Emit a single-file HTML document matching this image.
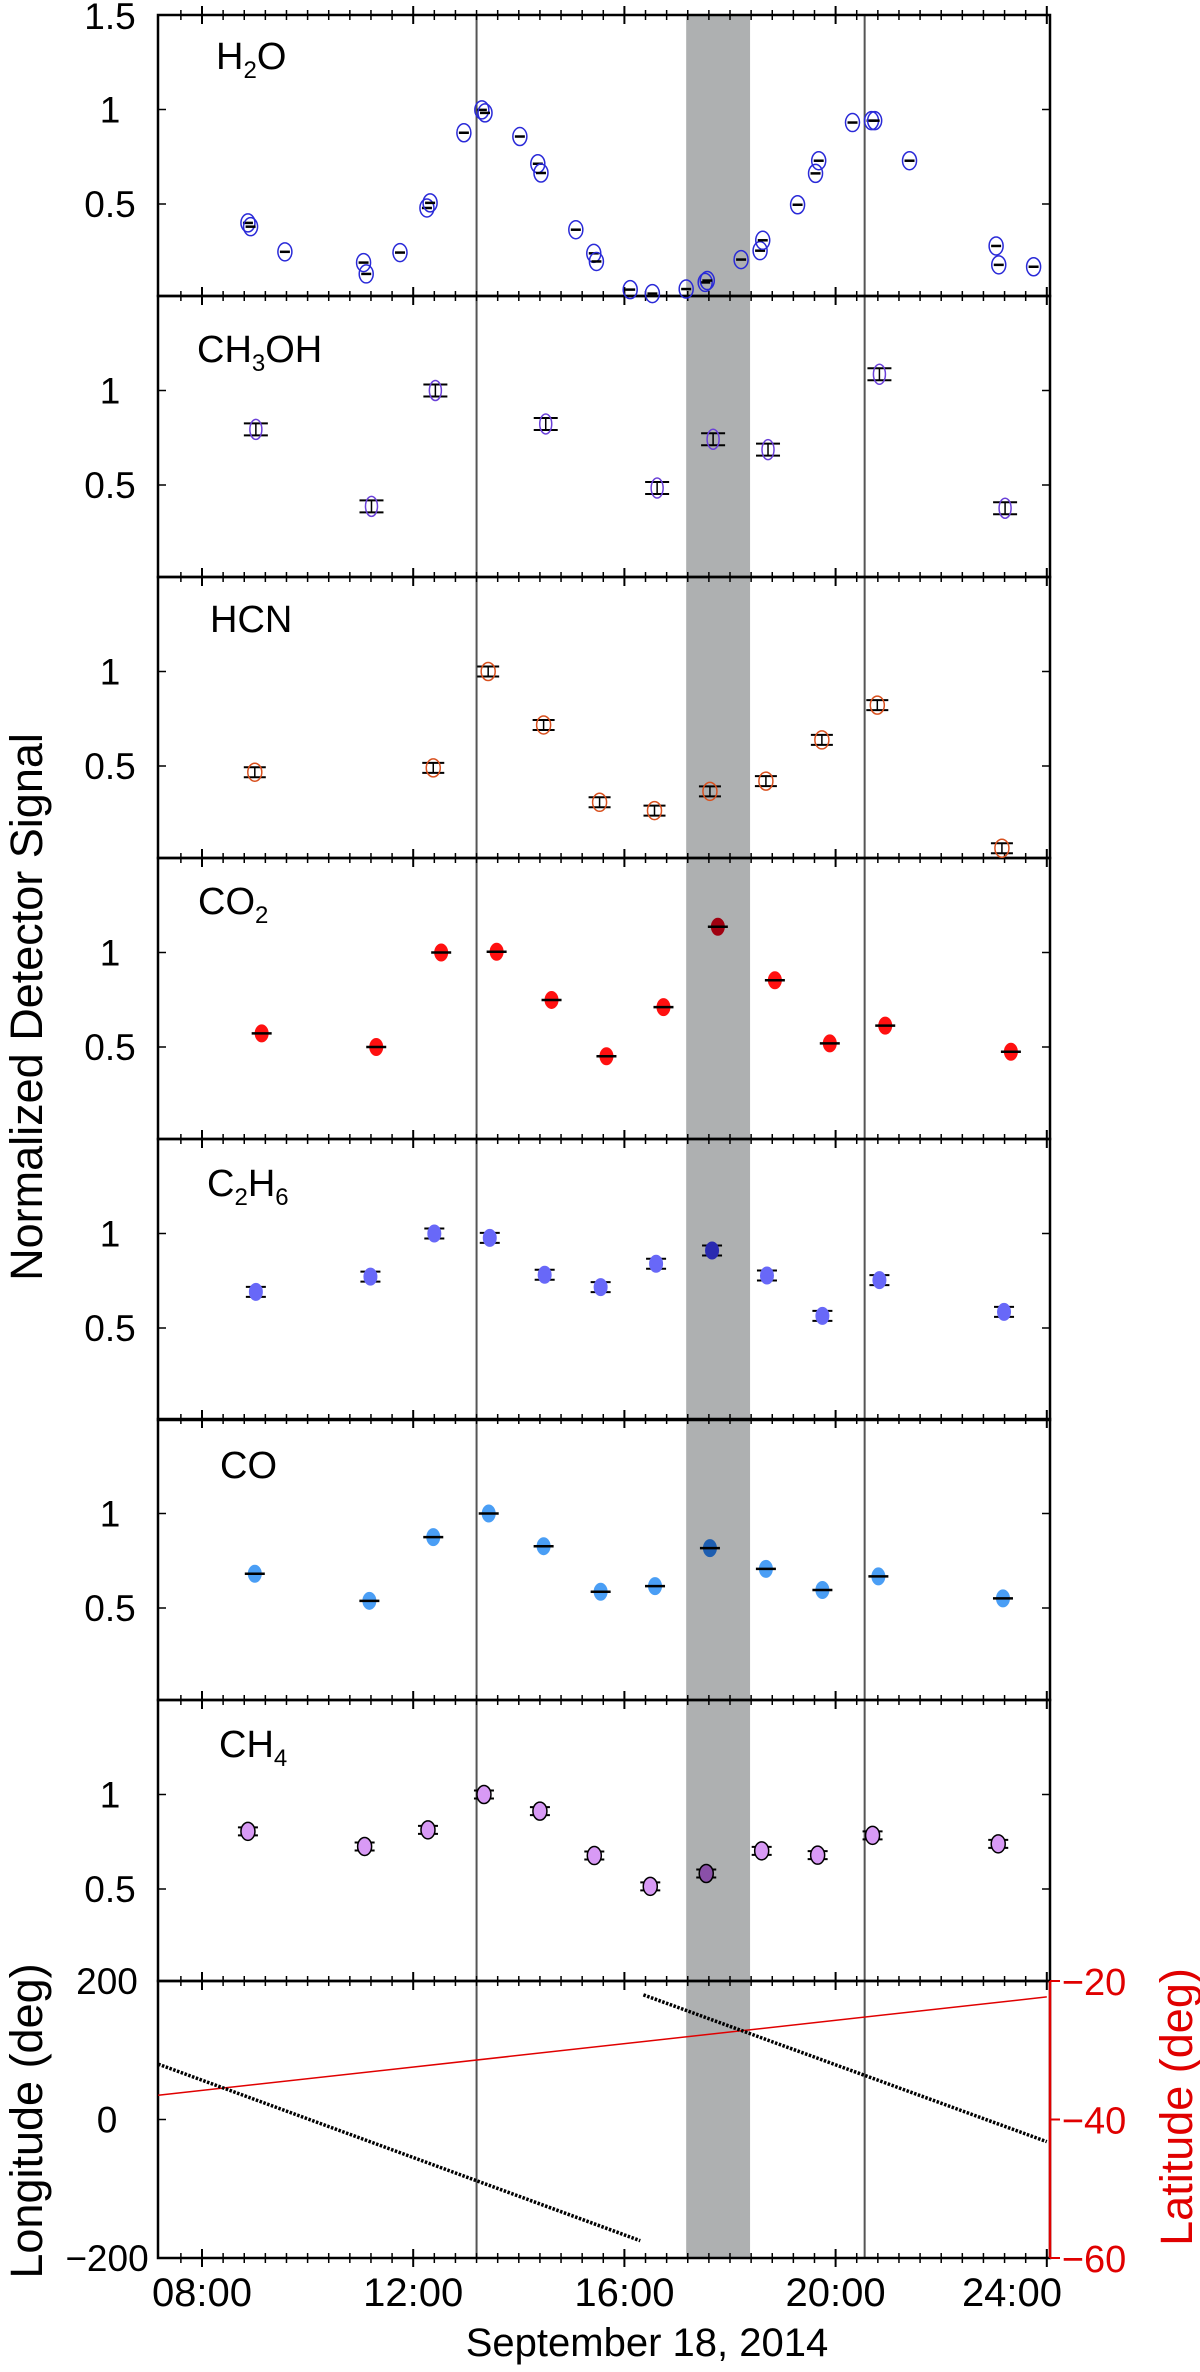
<!DOCTYPE html>
<html><head><meta charset="utf-8"><style>
html,body{margin:0;padding:0;background:#fff;}
svg{display:block;}
text{font-family:"Liberation Sans",sans-serif;}
</style></head><body>
<svg id="chart" width="1200" height="2372" viewBox="0 0 1200 2372" xmlns="http://www.w3.org/2000/svg"></svg>
<script>
// ---- data ----
const panelNames = ["H2O","CH3OH","HCN","CO2","C2H6","CO","CH4"];
const h2oTimes = [8.87,8.92,9.57,11.06,11.11,11.75,12.26,12.32,12.96,13.30,13.36,14.02,14.36,14.42,15.08,15.42,15.47,16.11,16.53,17.17,17.53,17.57,18.21,18.57,18.62,19.28,19.62,19.68,20.32,20.68,20.74,21.40,23.04,23.09,23.75];
const h2oValues = [0.40,0.38,0.247,0.19,0.13,0.243,0.479,0.506,0.877,0.998,0.982,0.857,0.713,0.664,0.364,0.239,0.196,0.047,0.026,0.05,0.085,0.095,0.206,0.253,0.308,0.496,0.662,0.729,0.931,0.941,0.941,0.729,0.278,0.178,0.168];
const ch3ohTimes = [9.02,11.21,12.42,14.51,16.62,17.68,18.72,20.83,23.21];
const ch3ohValues = [0.794,0.387,1.0,0.823,0.484,0.742,0.687,1.086,0.377];
const hcnTimes = [9.00,12.38,13.42,14.47,15.53,16.57,17.62,18.68,19.74,20.79,23.15];
const hcnValues = [0.467,0.49,1.0,0.717,0.308,0.264,0.366,0.42,0.638,0.822,0.065];
const co2Times = [9.13,11.30,12.53,13.58,14.62,15.66,16.74,17.77,18.85,19.89,20.94,23.32];
const co2Values = [0.572,0.5,1.0,1.004,0.749,0.451,0.711,1.136,0.853,0.519,0.613,0.475];
const c2h6Times = [9.02,11.19,12.40,13.45,14.49,15.55,16.60,17.66,18.70,19.75,20.83,23.19];
const c2h6Values = [0.691,0.772,1.0,0.977,0.782,0.716,0.84,0.91,0.778,0.564,0.753,0.585];
const coTimes = [9.0,11.17,12.38,13.43,14.47,15.55,16.58,17.62,18.68,19.75,20.81,23.17];
const coValues = [0.681,0.538,0.875,1.0,0.827,0.586,0.616,0.817,0.707,0.595,0.667,0.551];
const ch4Times = [8.87,11.08,12.28,13.34,14.40,15.43,16.49,17.55,18.60,19.66,20.70,23.08];
const ch4Values = [0.805,0.725,0.813,1.0,0.912,0.677,0.514,0.582,0.702,0.679,0.784,0.739];
const lonSeg1Times = [7.17,16.30];
const lonSeg1Values = [80,-175];
const lonSeg2Times = [16.36,24.0];
const lonSeg2Values = [180,-32];
const latTimes = [7.17,24.0];
const latValues = [-36.5,-22.3];
const markerTimes = [13.2,20.55];
const bandTimes = [17.17,18.38];
const xTickHours = [8,12,16,20,24];
const xTickLabels = ["08:00","12:00","16:00","20:00","24:00"];
const yTickValues = [0.5,1];
const lonTickValues = [200,0,-200];
const latTickValues = [-20,-40,-60];

// ---- layout ----
const svg = document.getElementById('chart');
const NS = "http://www.w3.org/2000/svg";
const L = 158, R = 1050;
const panelTop = [15,296,577,858,1139,1419,1700];
const lonTop = 1981, lonBot = 2258;
const PH = 281;
function X(h){ return 202 + (h-8)*52.8; }
function Y(p,v){ return panelTop[p] + (1.5 - v)*189; }
function YLon(v){ return lonTop + (200 - v)/400*(lonBot-lonTop); }
function YLat(v){ return lonTop + (-20 - v)/40*(lonBot-lonTop); }
function el(tag, attrs, parent){
  const e = document.createElementNS(NS, tag);
  for (const k in attrs) e.setAttribute(k, attrs[k]);
  (parent||svg).appendChild(e);
  return e;
}

const band = el('rect',{x:X(bandTimes[0]),y:15,width:X(bandTimes[1])-X(bandTimes[0]),height:lonBot-15,fill:'#aeb0b1'});


markerTimes.forEach(t=>{
  const ln = el('line',{x1:X(t),x2:X(t),y1:15,y2:lonBot,stroke:'#555',"stroke-width":2});
  
  
});

const allTops = panelTop.concat([lonTop]);
const allBots = panelTop.map(t=>t+PH).concat([lonBot]);
for (let i=0;i<allTops.length;i++){
  const f = el('rect',{x:L,y:allTops[i],width:R-L,height:allBots[i]-allTops[i],fill:'none',stroke:'#000',"stroke-width":2.5});
  
  
}
for (let k=0;k<=44;k++){
  const h = 7.2 + k*0.4;
  const x = X(h);
  if (x<L+2||x>R-2) continue;
  const major = Math.abs(h - Math.round(h/4)*4) < 0.05;
  const len = major?9:5;
  allTops.concat([lonBot]).forEach(y=>{
    el('line',{x1:x,x2:x,y1:y-len,y2:y+len,stroke:'#000',"stroke-width":major?2:1.5});
  });
}
panelTop.forEach((t,p)=>{
  yTickValues.forEach(v=>{
    el('line',{x1:L,x2:L+8,y1:Y(p,v),y2:Y(p,v),stroke:'#000',"stroke-width":1.5});
    el('line',{x1:R-8,x2:R,y1:Y(p,v),y2:Y(p,v),stroke:'#000',"stroke-width":1.5});
    const tl = el('text',{x:110,y:Y(p,v)+13,"font-size":37,"text-anchor":"middle",fill:'#000'});
    tl.textContent = v===1?'1':'0.5';
    
    
  });
});
const top15 = el('text',{x:110,y:29,"font-size":37,"text-anchor":"middle"});
top15.textContent='1.5';



lonTickValues.forEach(v=>{
  el('line',{x1:L,x2:L+8,y1:YLon(v),y2:YLon(v),stroke:'#000',"stroke-width":1.5});
  const t = el('text',{x:107,y:YLon(v)+13,"font-size":37,"text-anchor":"middle"});
  t.textContent = v<0 ? '\u2212'+Math.abs(v) : String(v);
  
  
});
el('line',{x1:R,x2:R,y1:lonTop,y2:lonBot,stroke:'#e00000',"stroke-width":2.5});
latTickValues.forEach(v=>{
  el('line',{x1:R,x2:R+10,y1:YLat(v),y2:YLat(v),stroke:'#e00000',"stroke-width":2});
  const t = el('text',{x:1094,y:YLat(v)+14,"font-size":38,"text-anchor":"middle",fill:'#e00000'});
  t.textContent = '\u2212'+Math.abs(v);
  
  
});

xTickHours.forEach((h,i)=>{
  const x = Math.min(X(h), 1012);
  const t = el('text',{x:x,y:2306,"font-size":40,"text-anchor":"middle"});
  t.textContent = xTickLabels[i];
  
  
});
const xt = el('text',{x:647,y:2356,"font-size":40,"text-anchor":"middle"});
xt.textContent='September 18, 2014';



const yt = el('text',{x:0,y:0,"font-size":45,"text-anchor":"middle",transform:"translate(42,1007) rotate(-90)"});
yt.textContent='Normalized Detector Signal';


const lt = el('text',{x:0,y:0,"font-size":45,"text-anchor":"middle",transform:"translate(42,2121) rotate(-90)"});
lt.textContent='Longitude (deg)';


const lat = el('text',{x:0,y:0,"font-size":45,"text-anchor":"middle",fill:'#e00000',transform:"translate(1192,2107) rotate(-90)"});
lat.textContent='Latitude (deg)';



const labelPos = [[216,69,'H','2','O'],[197,362,'CH','3','OH'],[210,632,'HCN','',''],[198,914,'CO','2',''],[207,1196,'C','2','H'],[220,1478,'CO','',''],[219,1757,'CH','4','']];
labelPos.forEach((lp,i)=>{
  const t = el('text',{x:lp[0],y:lp[1],"font-size":38});
  
  
  const a = el('tspan',{},t); a.textContent = lp[2];
  if (lp[3]) { const s = el('tspan',{dy:9,"font-size":24},t); s.textContent = lp[3]; }
  if (lp[4]) { const b = el('tspan',{dy:lp[3]?-9:0},t); b.textContent = lp[4]; }
  if (i===4){ const s2 = el('tspan',{dy:9,"font-size":24},t); s2.textContent='6'; }
});

function inBand(t){ return t>bandTimes[0] && t<bandTimes[1]; }
function series(p, times, vals, style){
  const g = el('g',{});
  
  
  times.forEach((t,i)=>{
    const x = X(t), y = Y(p, vals[i]);
    if (style.caps){
      el('line',{x1:x,x2:x,y1:y-style.err,y2:y+style.err,stroke:'#000',"stroke-width":1.5},g);
      el('line',{x1:x-style.cw,x2:x+style.cw,y1:y-style.err,y2:y-style.err,stroke:'#000',"stroke-width":2},g);
      el('line',{x1:x-style.cw,x2:x+style.cw,y1:y+style.err,y2:y+style.err,stroke:'#000',"stroke-width":2},g);
    }
    const fill = style.fill ? (inBand(t)?style.dark:style.fill) : 'none';
    const c = el('ellipse',{cx:x,cy:y,rx:style.rx,ry:style.ry,fill:fill,stroke:style.stroke,"stroke-width":1.5},g);
    
    
    if (style.bar) el('line',{x1:x-style.bar,x2:x+style.bar,y1:y,y2:y,stroke:'#000',"stroke-width":2.5},g);
  });
}
series(0,h2oTimes,h2oValues,{rx:7,ry:9,stroke:'#2a2ad8',bar:5});
series(1,ch3ohTimes,ch3ohValues,{rx:6,ry:10,stroke:'#6a40d8',caps:true,err:6,cw:12});
series(2,hcnTimes,hcnValues,{rx:7,ry:9,stroke:'#d8501e',caps:true,err:5,cw:11});
series(3,co2Times,co2Values,{rx:7,ry:9,stroke:'none',fill:'#ff1010',dark:'#a00010',bar:10});
series(4,c2h6Times,c2h6Values,{rx:7,ry:9,stroke:'none',fill:'#6868f8',dark:'#2a2ab0',caps:true,err:5,cw:10});
series(5,coTimes,coValues,{rx:7,ry:9,stroke:'none',fill:'#4a9ef5',dark:'#1e5eb0',bar:10});
series(6,ch4Times,ch4Values,{rx:7,ry:9,stroke:'#000',fill:'#d89af5',dark:'#8a50a8',caps:true,err:4,cw:10});

const latLine = el('line',{x1:X(latTimes[0]),y1:YLat(latValues[0]),x2:X(latTimes[1]),y2:YLat(latValues[1]),stroke:'#e00000',"stroke-width":1.5});


[[lonSeg1Times,lonSeg1Values],[lonSeg2Times,lonSeg2Values]].forEach(s=>{
  const l = el('line',{x1:X(s[0][0]),y1:YLon(s[1][0]),x2:X(s[0][1]),y2:YLon(s[1][1]),stroke:'#000',"stroke-width":3.5,"stroke-dasharray":"2.5,1.5"});
  
  
});
</script>
</body></html>
